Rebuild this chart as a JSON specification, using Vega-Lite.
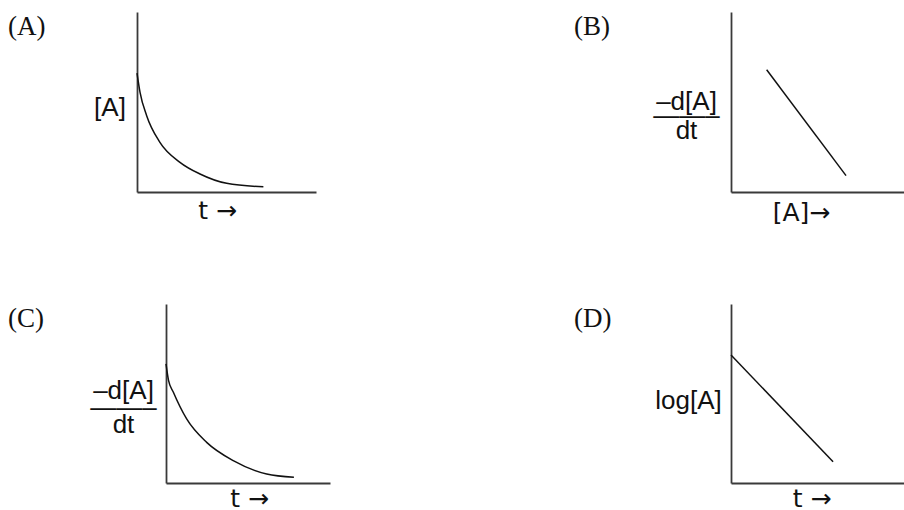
{
  "$schema": "https://vega.github.io/schema/vega-lite/v6.json",
  "background": "white",
  "padding": {"left": 8, "top": 12, "right": 0, "bottom": 0},
  "config": {
    "view": {"stroke": null},
    "axis": {
      "labels": false, "ticks": false, "grid": false,
      "domainColor": "#3a3a3a", "domainWidth": 1.8,
      "titleFont": "Liberation Sans", "titleFontSize": 26, "titleFontWeight": "normal", "titleColor": "#111111",
      "titleAngle": 0, "titleAlign": "center", "titleBaseline": "alphabetic"
    },
    "axisX": {"titleFont": "DejaVu Sans", "titleFontSize": 25},
    "title": {
      "font": "Liberation Serif", "fontSize": 27, "fontWeight": "normal", "color": "#111111",
      "anchor": "start", "frame": "group", "offset": 0, "baseline": "alphabetic", "orient": "top"
    },
    "line": {"color": "#111111", "strokeWidth": 1.5}
  },
  "datasets": {
    "curveA": [
      {"t": 0, "conc": 66.1}, {"t": 1.7, "conc": 55.4}, {"t": 5.4, "conc": 42.4},
      {"t": 12.8, "conc": 27.6}, {"t": 24.0, "conc": 16.5}, {"t": 35.2, "conc": 10.0},
      {"t": 50.1, "conc": 4.8}, {"t": 70.6, "conc": 2.9}
    ],
    "lineB": [
      {"conc": 20.6, "rate": 67.9}, {"conc": 66.5, "rate": 9.1}
    ],
    "curveC": [
      {"t": 0, "rate": 66.5}, {"t": 1.5, "rate": 57.5}, {"t": 4.5, "rate": 50.7},
      {"t": 12.6, "rate": 35.8}, {"t": 24.8, "rate": 22.7}, {"t": 41.0, "rate": 12.5},
      {"t": 61.4, "rate": 5.0}, {"t": 78.0, "rate": 3.2}
    ],
    "lineD": [
      {"t": 0, "logc": 71.5}, {"t": 59.0, "logc": 11.9}
    ]
  },
  "bounds": "flush",
  "spacing": 292,
  "vconcat": [
    {
      "bounds": "flush",
      "spacing": 415,
      "hconcat": [
        {
          "width": 179, "height": 180,
          "title": {"text": "(A)", "dx": -129, "dy": 33},
          "data": {"name": "curveA"},
          "mark": {"type": "line", "interpolate": "monotone"},
          "encoding": {
            "x": {"field": "t", "type": "quantitative", "scale": {"domain": [0, 100], "nice": false},
                  "axis": {"title": "t →", "titleX": 80, "titleY": 26}},
            "y": {"field": "conc", "type": "quantitative", "scale": {"domain": [0, 100], "nice": false},
                  "axis": {"title": "[A]", "titleX": -27.5, "titleY": 103}}
          }
        },
        {
          "width": 173, "height": 180,
          "title": {"text": "(B)", "dx": -157, "dy": 33},
          "data": {"name": "lineB"},
          "mark": {"type": "line"},
          "encoding": {
            "x": {"field": "conc", "type": "quantitative", "scale": {"domain": [0, 100], "nice": false},
                  "axis": {"title": "[A]→", "titleX": 70, "titleY": 28}},
            "y": {"field": "rate", "type": "quantitative", "scale": {"domain": [0, 100], "nice": false},
                  "axis": {"title": ["–d[A]", "——–", "dt"], "titleX": -45, "titleY": 97.5, "titleLineHeight": 14.25}}
          }
        }
      ]
    },
    {
      "bounds": "flush",
      "spacing": 0,
      "hconcat": [
        {"width": 29, "height": 179, "data": {"values": []}, "mark": {"type": "point", "opacity": 0}},
        {
          "width": 164, "height": 179,
          "title": {"text": "(C)", "dx": -158, "dy": 32.5},
          "data": {"name": "curveC"},
          "mark": {"type": "line", "interpolate": "monotone"},
          "encoding": {
            "x": {"field": "t", "type": "quantitative", "scale": {"domain": [0, 100], "nice": false},
                  "axis": {"title": "t →", "titleX": 83, "titleY": 23}},
            "y": {"field": "rate", "type": "quantitative", "scale": {"domain": [0, 100], "nice": false},
                  "axis": {"title": ["–d[A]", "——–", "dt"], "titleX": -43, "titleY": 94.5, "titleLineHeight": 16.75}}
          }
        },
        {"width": 401, "height": 179, "data": {"values": []}, "mark": {"type": "point", "opacity": 0}},
        {
          "width": 173, "height": 179,
          "title": {"text": "(D)", "dx": -157, "dy": 32.5},
          "data": {"name": "lineD"},
          "mark": {"type": "line"},
          "encoding": {
            "x": {"field": "t", "type": "quantitative", "scale": {"domain": [0, 100], "nice": false},
                  "axis": {"title": "t →", "titleX": 80.5, "titleY": 23}},
            "y": {"field": "logc", "type": "quantitative", "scale": {"domain": [0, 100], "nice": false},
                  "axis": {"title": "log[A]", "titleX": -43, "titleY": 104.3}}
          }
        }
      ]
    }
  ]
}
